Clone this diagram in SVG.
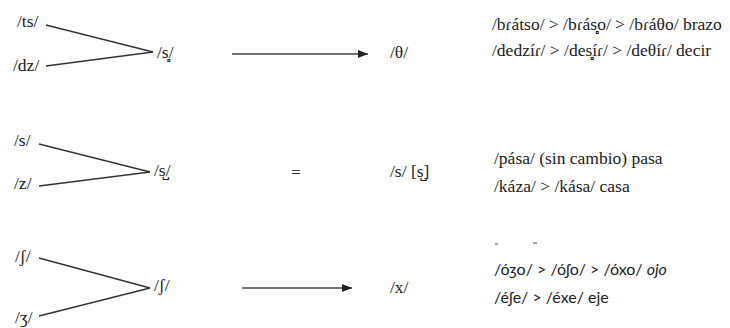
<svg xmlns="http://www.w3.org/2000/svg" width="730" height="328" viewBox="0 0 730 328">
<style>
.t{font-size:17.5px;fill:#222}
.s{font-size:16px;fill:#222}
.l{stroke:#333;stroke-width:1.3;fill:none}
.a{stroke:#444;stroke-width:1.3;fill:none;marker-end:url(#ah)}
</style>
<defs>
<marker id="ah" viewBox="0 0 10 8" refX="10" refY="4" markerWidth="10" markerHeight="8" markerUnits="userSpaceOnUse" orient="auto">
<path d="M0,0 L10,4 L0,8 Z" fill="#222"/>
</marker>
</defs>
<g id="connectors">
<line class="l" x1="46" y1="25" x2="153" y2="52"/>
<line class="l" x1="46" y1="66" x2="153" y2="52"/>
<line class="a" x1="232" y1="54" x2="368" y2="54"/>
<line class="l" x1="39" y1="144" x2="150" y2="172"/>
<line class="l" x1="39" y1="186" x2="150" y2="172"/>
<line class="l" x1="39" y1="258" x2="150" y2="288"/>
<line class="l" x1="39" y1="316" x2="150" y2="288"/>
<line class="a" x1="242" y1="288" x2="352" y2="288"/>
</g>
<g font-family="Liberation Serif, Times New Roman, serif">
<g id="row1">
<g id="n-ts"><text class="t" x="17" y="27">/ts/</text></g>
<g id="n-dz"><text class="t" x="13" y="71">/dz/</text></g>
<g id="n-s1"><text class="t" x="157" y="58">/s̻/</text></g>
<g id="n-theta"><text class="t" x="390" y="58">/θ/</text></g>
<g id="ex1"><text class="t" x="492" y="30">/bɾátso/ &gt; /bɾás̻o/ &gt; /bɾáθo/ brazo</text>
<text class="t" x="492" y="56">/dedzíɾ/ &gt; /des̻íɾ/ &gt; /deθíɾ/ decir</text></g>
</g>
<g id="row2">
<g id="n-s"><text class="t" x="14" y="146">/s/</text></g>
<g id="n-z"><text class="t" x="14" y="189">/z/</text></g>
<g id="n-s2"><text class="t" x="154" y="176">/s̺/</text></g>
<g id="eq"><text class="t" x="291" y="178">=</text></g>
<g id="n-s3"><text class="t" x="390" y="177">/s/ [s̺]</text></g>
<g id="ex2"><text class="t" x="494" y="164">/pása/ (sin cambio) pasa</text>
<text class="t" x="494" y="192">/káza/ &gt; /kása/ casa</text></g>
</g>
<g id="row3">
<g id="n-sh"><text class="t" x="15" y="262">/ʃ/</text></g>
<g id="n-zh"><text class="t" x="15" y="323">/ʒ/</text></g>
<g id="n-sh2"><text class="t" x="154" y="291">/ʃ/</text></g>
<g id="n-x"><text class="t" x="390" y="293">/x/</text></g>
</g>
</g>
<g id="ex3" font-family="Lato, Open Sans, sans-serif">
<line x1="495" y1="244" x2="498" y2="244" stroke="#444" stroke-width="1"/>
<line x1="533" y1="243" x2="537" y2="243" stroke="#444" stroke-width="1"/>
<text class="s" x="494" y="275">/óʒo/ &gt; /óʃo/ &gt; /óxo/ <tspan font-style="italic">ojo</tspan></text>
<text class="s" x="494" y="303">/éʃe/ &gt; /éxe/ eje</text>
</g>
</svg>
